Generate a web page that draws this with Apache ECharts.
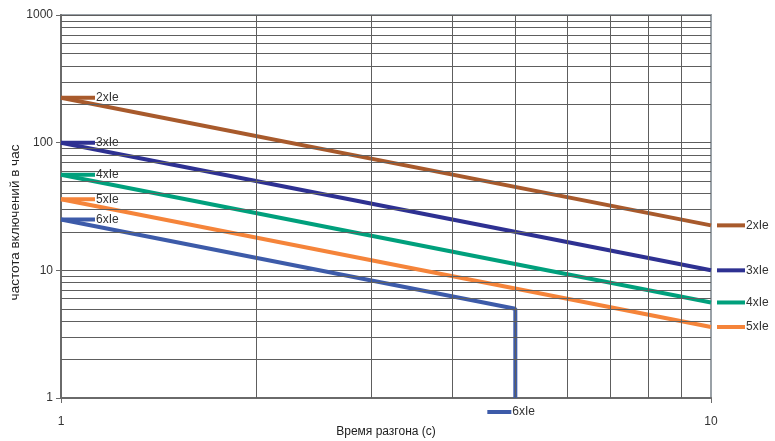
<!DOCTYPE html>
<html>
<head>
<meta charset="utf-8">
<script src="https://cdn.jsdelivr.net/npm/echarts@6/dist/echarts.min.js"></script>
<style>
  html, body { margin: 0; padding: 0; background: #fff; }
  #chart { width: 775px; height: 441px; }
</style>
</head>
<body>
<div id="chart"></div>
<script>
// series names and points (x = время разгона, y = частота включений)
var names = ['2xIe', '3xIe', '4xIe', '5xIe', '6xIe'];
var colors = ['#a85a2c', '#2e3192', '#00a07c', '#f5843a', '#3d5ba9'];
var line2 = [[1, 225], [10, 22.5]];
var line3 = [[1, 100], [10, 10]];
var line4 = [[1, 56], [10, 5.6]];
var line5 = [[1, 36], [10, 3.6]];
var line6 = [[1, 25], [5, 5], [5, 1]];
var allLines = [line2, line3, line4, line5, line6];

// minor grid values
var yMinor = [2, 3, 4, 5, 6, 7, 8, 9, 20, 30, 40, 50, 60, 70, 80, 90, 200, 300, 400, 500, 600, 700, 800, 900];
var xMinor = [2, 3, 4, 5, 6, 7, 8, 9];

var font = 'Liberation Sans, Arial, sans-serif';
var chart = echarts.init(document.getElementById('chart'));

var gridMarks = [];
for (var i = 0; i < yMinor.length; i++)
    gridMarks.push({yAxis: yMinor[i]});
for (var i = 0; i < xMinor.length; i++)
    gridMarks.push({xAxis: xMinor[i]});

var series = [
    {
        type: 'line',
        data: [],
        silent: true,
        z: 1,
        markLine: {
            silent: true,
            symbol: ['none', 'none'],
            label: {show: false},
            lineStyle: {color: '#5e5e5e', width: 1, type: 'solid'},
            animation: false,
            data: gridMarks
        }
    }
];
for (var i = 0; i < allLines.length; i++)
{
    series.push({
        name: names[i],
        type: 'line',
        data: allLines[i],
        showSymbol: false,
        z: 3,
        lineStyle: {color: colors[i], width: 4},
        itemStyle: {color: colors[i]}
    });
}

var option = {
    animation: false,
    grid: {
        left: 61, right: 64, top: 15, bottom: 43,
        outerBoundsMode: 'none',
        containLabel: false,
        show: true,
        borderColor: '#9aa1a7',
        borderWidth: 2
    },
    xAxis: {
        type: 'log',
        logBase: 10,
        min: 1,
        max: 10,
        name: 'Время разгона (с)',
        nameLocation: 'middle',
        nameGap: 28,
        nameMoveOverlap: false,
        nameTextStyle: {color: '#222', fontSize: 12, fontFamily: font},
        axisLine: {lineStyle: {color: '#6a6a6a', width: 2}},
        axisTick: {show: true, length: 5, lineStyle: {color: '#6a6a6a'}},
        axisLabel: {color: '#333', fontSize: 12, fontFamily: font, margin: 18,
            formatter: function (v) { return String(v); }},
        splitLine: {show: false}
    },
    yAxis: {
        type: 'log',
        logBase: 10,
        min: 1,
        max: 1000,
        name: 'частота включений в час',
        nameLocation: 'middle',
        nameGap: 39,
        nameMoveOverlap: false,
        nameTextStyle: {color: '#222', fontSize: 13.5, fontFamily: font, padding: [0, 32, 0, 0]},
        axisLine: {show: true, lineStyle: {color: '#6a6a6a', width: 2}},
        axisTick: {show: true, length: 5, lineStyle: {color: '#6a6a6a'}},
        axisLabel: {color: '#333', fontSize: 12, fontFamily: font, margin: 8,
            formatter: function (v) { return String(v); }},
        splitLine: {show: true, lineStyle: {color: '#5e5e5e', width: 1}}
    },
    series: series
};
chart.setOption(option);

// label markers beside the lines, placed from the data through the axes
var graphics = [];
function addMarker(px, py, len, text, color)
{
    graphics.push({
        type: 'line',
        shape: {x1: px, y1: py, x2: px + len, y2: py},
        style: {stroke: color, lineWidth: 4},
        z: 10
    });
    graphics.push({
        type: 'text',
        x: px + len + 1,
        y: py,
        style: {text: text, fill: '#333', font: '12px ' + font, textVerticalAlign: 'middle'},
        z: 11
    });
}
for (var i = 0; i < allLines.length; i++)
{
    var pts = allLines[i];
    var start = chart.convertToPixel({gridIndex: 0}, pts[0]);
    addMarker(start[0], start[1], 34, names[i], colors[i]);
    var end = chart.convertToPixel({gridIndex: 0}, pts[pts.length - 1]);
    if (i < 4)
        addMarker(end[0] + 6, end[1], 28, names[i], colors[i]);
    else
        addMarker(end[0] - 28, end[1] + 14, 24, names[i], colors[i]);
}
chart.setOption({graphic: graphics});
</script>
</body>
</html>
